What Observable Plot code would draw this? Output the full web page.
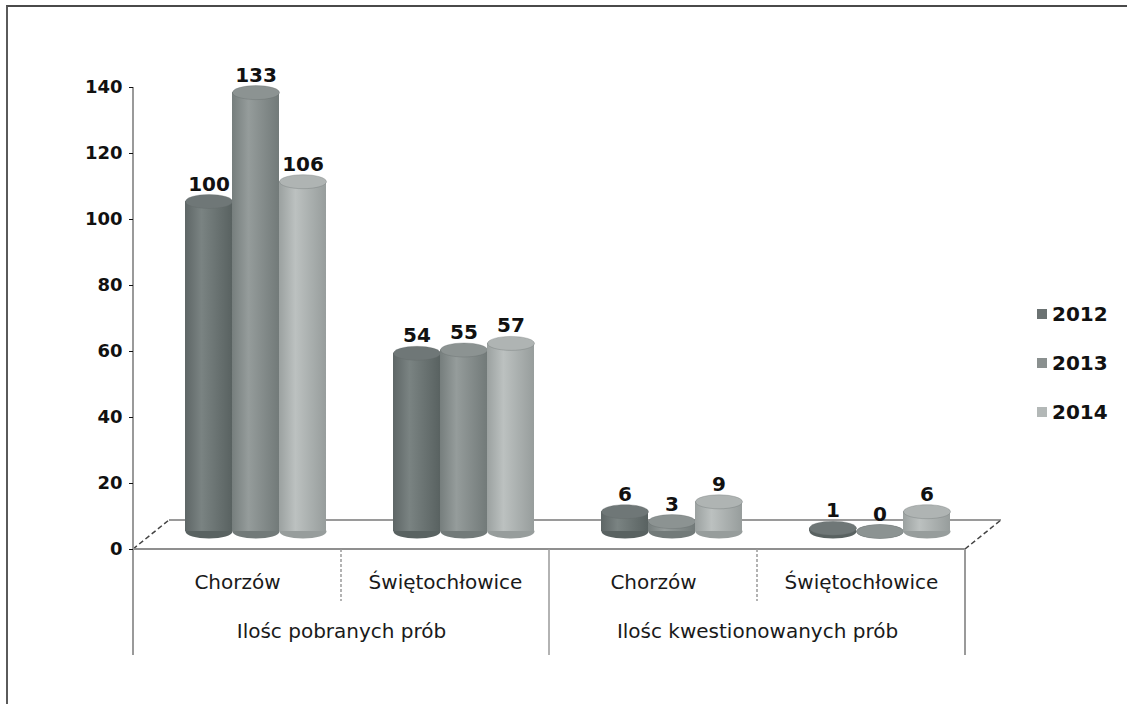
<!DOCTYPE html>
<html>
<head>
<meta charset="utf-8">
<script src="https://cdn.jsdelivr.net/npm/d3@7"></script>
<script src="https://cdn.jsdelivr.net/npm/@observablehq/plot@0.6"></script>
<style>
  html, body { margin: 0; padding: 0; background: #fff; }
  #wrap { position: relative; width: 1127px; height: 704px; overflow: hidden; font-family: "DejaVu Sans", sans-serif; }
  #border { position: absolute; left: 6px; top: 5px; right: -4px; bottom: -4px; border-top: 2px solid #4a4a4a; border-left: 2px solid #5a5a5a; }
  #chart { position: absolute; left: 0; top: 0; }
  .chart [aria-label^="y-axis"] text { font-weight: 700; fill: #111; font-size: 18px; }
  #legend { position: absolute; left: 1037px; top: 289px; font: 700 20px "DejaVu Sans", sans-serif; color: #111; }
  #legend .item { display: flex; align-items: center; height: 49px; }
  #legend .sw { width: 10px; height: 10px; margin-right: 5px; }
</style>
</head>
<body>
<div id="wrap">
  <div id="border"></div>
  <div id="chart"></div>
  <div id="legend"></div>
</div>
<script>
// ---- data ----
const groups = ["Ilośc pobranych prób", "Ilośc pobranych prób", "Ilośc kwestionowanych prób", "Ilośc kwestionowanych prób"];
const cities = ["Chorzów", "Świętochłowice", "Chorzów", "Świętochłowice"];
const years = ["2012", "2013", "2014"];
const v2012 = [100, 54, 6, 1];
const v2013 = [133, 55, 3, 0];
const v2014 = [106, 57, 9, 6];
const yTicks = [0, 20, 40, 60, 80, 100, 120, 140];

// ---- styles ----
const bodyStops = {
  "2012": ["#5e6666", "#7a8382", "#596261"],
  "2013": ["#767e7d", "#959c9b", "#727a79"],
  "2014": ["#9ba1a0", "#bcc1c0", "#979d9c"]
};
const topFill = { "2012": "#6f7777", "2013": "#8c9392", "2014": "#afb4b3" };
const legendFill = { "2012": "#6b7272", "2013": "#8a908f", "2014": "#b3b8b7" };

const series = [v2012, v2013, v2014];
const cats = cities.map((_, i) => String(i));
const rows = [];
cats.forEach((c, i) => years.forEach((y, j) => rows.push({ cat: c, city: cities[i], group: groups[i], year: y, value: series[j][i] })));
const catRows = cats.map((c, i) => ({ cat: c, city: cities[i] }));
const groupRows = [{ cat: "0", group: groups[0] }, { cat: "2", group: groups[2] }];

const RX = 23.5, RY = 7, K = 0.5523;
const ellipse = {
  draw(ctx) {
    ctx.moveTo(RX, 0);
    ctx.bezierCurveTo(RX, K * RY, K * RX, RY, 0, RY);
    ctx.bezierCurveTo(-K * RX, RY, -RX, K * RY, -RX, 0);
    ctx.bezierCurveTo(-RX, -K * RY, -K * RX, -RY, 0, -RY);
    ctx.bezierCurveTo(K * RX, -RY, RX, -K * RY, RX, 0);
    ctx.closePath();
  }
};

const DX = 18, DY = -18;
const barMarks = [];
years.forEach(y => {
  const d = rows.filter(r => r.year === y);
  barMarks.push(Plot.dot(d, { fx: "cat", x: "year", y: () => 0, symbol: ellipse, fill: bodyStops[y][2], stroke: "none", dx: DX, dy: DY }));
  barMarks.push(Plot.barY(d, { fx: "cat", x: "year", y1: () => 0, y2: "value", fill: `url(#g${y})`, dx: DX, dy: DY }));
  barMarks.push(Plot.dot(d, { fx: "cat", x: "year", y: "value", symbol: ellipse, fill: topFill[y], stroke: "#5f6666", strokeOpacity: 0.3, strokeWidth: 1, dx: DX, dy: DY }));
});

const plot = Plot.plot({
  width: 1127,
  height: 704,
  marginLeft: 133,
  marginRight: 162,
  marginTop: 87,
  marginBottom: 155,
  className: "chart",
  style: { fontFamily: "'DejaVu Sans', sans-serif", fontSize: "18px", color: "#111", background: "transparent" },
  fx: { domain: cats, padding: 0, axis: null },
  x: { domain: years, paddingInner: 0, paddingOuter: 0.71, axis: null },
  y: { domain: [0, 140], ticks: yTicks, tickSize: 4, tickPadding: 7, label: null },
  marks: [
    ...barMarks,
    Plot.text(rows, { fx: "cat", x: "year", y: "value", text: "value", dx: DX, dy: -29, lineAnchor: "bottom", fontWeight: "bold", fontSize: 20, fill: "#111" }),
    Plot.text(catRows, { fx: "cat", text: "city", frameAnchor: "bottom", dy: 39, fontSize: 20, fill: "#1a1a1a" }),
    Plot.text(groupRows, { fx: "cat", text: "group", frameAnchor: "bottom-right", textAnchor: "middle", dy: 88, fontSize: 20, fill: "#1a1a1a" })
  ]
});

// gradients
const svg = d3.select(plot);
const defs = svg.insert("defs", ":first-child");
years.forEach(y => {
  const g = defs.append("linearGradient").attr("id", `g${y}`).attr("x1", 0).attr("x2", 1).attr("y1", 0).attr("y2", 0);
  g.append("stop").attr("offset", "0%").attr("stop-color", bodyStops[y][0]);
  g.append("stop").attr("offset", "35%").attr("stop-color", bodyStops[y][1]);
  g.append("stop").attr("offset", "100%").attr("stop-color", bodyStops[y][2]);
});

// floor, axis line and category dividers, positioned through the plot's scales (drawn behind the marks)
const fx = plot.scale("fx"), ys = plot.scale("y");
const bw = fx.bandwidth !== undefined ? fx.bandwidth : 208;
const left = fx.apply("0"), right = fx.apply("3") + bw;
const y0 = ys.apply(0), yTop = ys.apply(140);
const gl = svg.insert("g", "defs + *").attr("fill", "none");
const line = (x1, y1, x2, y2, stroke, w, dash) => gl.append("line").attr("x1", x1).attr("y1", y1).attr("x2", x2).attr("y2", y2).attr("stroke", stroke).attr("stroke-width", w).attr("stroke-dasharray", dash || null);
const backY = y0 - 29, depth = 36;
line(left + depth, backY, right + depth, backY, "#9a9a9a", 2);
line(left, y0, left + depth, backY, "#444", 1.5, "5 3");
line(right, y0, right + depth, backY, "#444", 1.5, "5 3");
line(left, y0, right, y0, "#8f8f8f", 2);
line(left, yTop, left, y0 + 106, "#9a9a9a", 2);
cats.slice(1).forEach((c, i) => {
  const x = fx.apply(c);
  line(x, y0, x, y0 + (i === 1 ? 106 : 52), "#9a9a9a", 1.5, i === 1 ? null : "3 2");
});
line(right, y0, right, y0 + 106, "#9a9a9a", 2);

document.getElementById("chart").appendChild(plot);

// legend
const leg = d3.select("#legend");
years.forEach(y => {
  const it = leg.append("div").attr("class", "item");
  it.append("div").attr("class", "sw").style("background", legendFill[y]);
  it.append("span").text(y);
});
</script>
</body>
</html>
